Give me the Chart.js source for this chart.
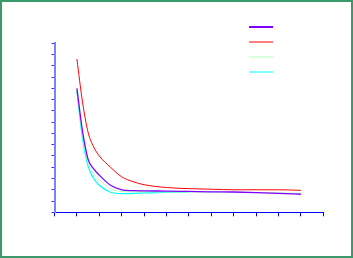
<!DOCTYPE html>
<html>
<head>
<meta charset="utf-8">
<script src="https://cdn.jsdelivr.net/npm/chart.js@4.4.0/dist/chart.umd.min.js"></script>
<style>
    html, body { margin: 0; padding: 0; background: #ffffff; }
    #wrap { width: 353px; height: 258px; position: relative; }
</style>
</head>
<body>
<div id="wrap"><canvas id="myChart"></canvas></div>
<script>
// values
const xValues = [1, 1.25, 1.5, 1.75, 2, 2.5, 3, 3.5, 4, 5, 6, 7, 8, 9, 10, 11];
const purpleValues = [11.0, 7.2, 4.7, 3.85, 3.3, 2.4, 2.0, 1.92, 1.9, 1.88, 1.85, 1.82, 1.8, 1.75, 1.68, 1.6];
const redValues = [13.6, 9.8, 7.1, 5.8, 5.0, 4.0, 3.15, 2.72, 2.45, 2.2, 2.1, 2.05, 2.0, 2.0, 2.0, 1.95];
const greenValues = [10.9, 6.9, 4.4, 3.4, 2.9, 2.1, 1.85, 1.82, 1.82, 1.8, 1.8, 1.8, 1.78, 1.75, 1.72, 1.7];
const cyanValues = [10.8, 6.6, 4.1, 3.0, 2.4, 1.78, 1.66, 1.68, 1.72, 1.78, 1.8, null, null, null, null, null];
const seriesNames = ['', '', '', ''];
const seriesColors = ['#8000ff', '#ff0000', '#b8ffb8', '#00ffff'];

function toPoints(values) {
    return xValues.map((x, i) => ({x: x, y: values[i]}));
}

const frame = {
    id: 'frame',
    afterDraw(chart) {
        const ctx = chart.ctx;
        ctx.save();
        // legend: only line samples, no text
        chart.data.datasets.forEach((ds, i) => {
            const y = 27 + i * 15;
            ctx.strokeStyle = ds.borderColor;
            ctx.lineWidth = i === 0 ? 2 : 1;
            ctx.beginPath();
            ctx.moveTo(249, y);
            ctx.lineTo(273, y);
            ctx.stroke();
        });
        // green outer border
        ctx.strokeStyle = '#3a9a6a';
        ctx.lineWidth = 2;
        ctx.strokeRect(1, 1, chart.width - 2, chart.height - 2);
        ctx.restore();
    }
};

const ctx = document.getElementById('myChart');
new Chart(ctx, {
    type: 'line',
    data: {
        datasets: [
            {label: seriesNames[0], data: toPoints(purpleValues), borderColor: seriesColors[0], borderWidth: 1.3},
            {label: seriesNames[1], data: toPoints(redValues), borderColor: seriesColors[1], borderWidth: 1},
            {label: seriesNames[2], data: toPoints(greenValues), borderColor: seriesColors[2], borderWidth: 1},
            {label: seriesNames[3], data: toPoints(cyanValues), borderColor: seriesColors[3], borderWidth: 1.3}
        ]
    },
    options: {
        responsive: true,
        maintainAspectRatio: false,
        animation: false,
        spanGaps: false,
        layout: {
            padding: {left: 51.5, right: 29.7, top: 43.3, bottom: 41.7}
        },
        elements: {
            point: {radius: 0},
            line: {cubicInterpolationMode: 'monotone', fill: false}
        },
        scales: {
            x: {
                type: 'linear',
                min: 0,
                max: 12,
                ticks: {display: false, stepSize: 1},
                grid: {display: true, drawOnChartArea: false, drawTicks: true, tickLength: 4, color: '#0000ff'},
                border: {display: true, color: '#0000ff', width: 1}
            },
            y: {
                type: 'linear',
                min: 0,
                max: 15,
                ticks: {display: false, stepSize: 1},
                grid: {display: true, drawOnChartArea: false, drawTicks: true, tickLength: 3, color: '#3030ff'},
                border: {display: true, color: '#8080ff', width: 2}
            }
        },
        plugins: {
            legend: {display: false},
            tooltip: {enabled: false}
        }
    },
    plugins: [frame]
});
</script>
</body>
</html>
